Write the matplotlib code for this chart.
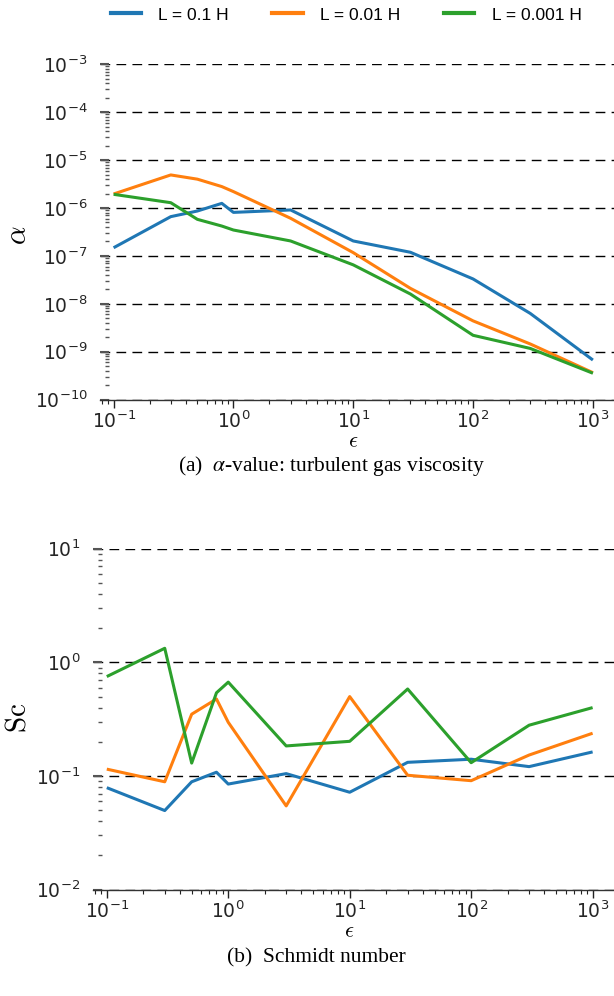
import matplotlib
matplotlib.use("Agg")
import matplotlib.pyplot as plt
from matplotlib.lines import Line2D
from matplotlib.ticker import LogLocator, NullFormatter
import numpy as np

# epsilon values shared by every run
eps = [0.1, 0.3, 0.5, 0.8, 1, 3, 10, 30, 100, 300, 1000]

# turbulent gas viscosity alpha
alpha_L01 = [1.48e-7, 6.6e-7, 8.65e-7, 1.25e-6, 8.1e-7, 9.1e-7, 2.05e-7, 1.19e-7, 3.3e-8, 6.3e-9, 6.7e-10]
alpha_L001 = [1.96e-6, 4.9e-6, 4.0e-6, 2.8e-6, 2.2e-6, 6.1e-7, 1.17e-7, 2.1e-8, 4.4e-9, 1.45e-9, 3.65e-10]
alpha_L0001 = [1.93e-6, 1.29e-6, 5.8e-7, 4.2e-7, 3.47e-7, 2.05e-7, 6.5e-8, 1.6e-8, 2.2e-9, 1.17e-9, 3.55e-10]

# Schmidt number
sc_L01 = [0.079, 0.0497, 0.089, 0.108, 0.085, 0.105, 0.072, 0.132, 0.1406, 0.121, 0.163]
sc_L001 = [0.115, 0.089, 0.35, 0.476, 0.297, 0.0546, 0.50, 0.1016, 0.091, 0.153, 0.238]
sc_L0001 = [0.75, 1.33, 0.13, 0.54, 0.67, 0.184, 0.202, 0.583, 0.131, 0.28, 0.40]

labels = ["L = 0.1 H", "L = 0.01 H", "L = 0.001 H"]
colors = ["#1f77b4", "#ff7f0e", "#2ca02c"]

W, H = 614, 996
fig = plt.figure(figsize=(W / 100, H / 100), dpi=100)

ax1 = fig.add_axes([100 / W, 1 - 399.6 / H, 514 / W, 335.3 / H])
ax2 = fig.add_axes([93 / W, 1 - 889.7 / H, 521 / W, 341 / H])


def style(ax, ylim):
    ax.set_xscale("log")
    ax.set_yscale("log")
    ax.set_xlim(0.077, 1500)
    ax.set_ylim(*ylim)
    for s in ["top", "right"]:
        ax.spines[s].set_visible(False)
    ax.spines["left"].set_position(("outward", -6.5))
    ax.spines["left"].set_color("none")
    ax.spines["bottom"].set_color("#333333")
    ax.spines["bottom"].set_linewidth(1.0)
    ax.yaxis.set_major_locator(LogLocator(base=10, numticks=20))
    ax.yaxis.set_minor_locator(LogLocator(base=10, subs=np.arange(2, 10), numticks=100))
    ax.yaxis.set_minor_formatter(NullFormatter())
    ax.xaxis.set_minor_locator(LogLocator(base=10, subs=np.arange(2, 10), numticks=100))
    ax.xaxis.set_minor_formatter(NullFormatter())
    ax.tick_params(axis="y", which="major", direction="out", length=6.5, width=1.5,
                   color="#555555", labelsize=13.5, labelcolor="#262626", pad=9)
    ax.tick_params(axis="y", which="minor", direction="out", length=3, width=1.0,
                   color="#555555")
    ax.tick_params(axis="x", which="major", direction="out", length=6, width=1.0,
                   color="#222222", labelsize=13.5, labelcolor="#262626", pad=2)
    ax.tick_params(axis="x", which="minor", direction="out", length=3, width=0.8,
                   color="#222222")
    ax.grid(True, axis="y", which="major", color="black", linestyle=(0, (7, 4.5)),
            linewidth=1.0)
    ax.grid(False, axis="x")
    ax.set_axisbelow(True)


style(ax1, (1e-10, 1e-3))
style(ax2, (1e-2, 1e1))

for ys, c in zip([alpha_L01, alpha_L001, alpha_L0001], colors):
    ax1.plot(eps, ys, color=c, lw=2.2, solid_capstyle="butt")
for ys, c in zip([sc_L01, sc_L001, sc_L0001], colors):
    ax2.plot(eps, ys, color=c, lw=2.2, solid_capstyle="butt")

# axis labels and captions
fig.text(18 / W, 1 - 235 / H, r"$\alpha$", rotation=90, ha="center", va="center",
         fontsize=21, math_fontfamily="cm")
fig.text(18 / W, 1 - 718 / H, r"$\mathrm{Sc}$", rotation=90, ha="center", va="center",
         fontsize=21, math_fontfamily="cm")
fig.text(353 / W, 1 - 441 / H, r"$\epsilon$", ha="center", va="center",
         fontsize=16, math_fontfamily="cm")
fig.text(349 / W, 1 - 931 / H, r"$\epsilon$", ha="center", va="center",
         fontsize=16, math_fontfamily="cm")
fig.text(331 / W, 1 - 466 / H, r"(a)  $\alpha$-value: turbulent gas viscosity",
         ha="center", va="center", fontsize=15.5, family="Liberation Serif",
         math_fontfamily="stix")
fig.text(316 / W, 1 - 958 / H, "(b)  Schmidt number", ha="center", va="center",
         fontsize=15.5, family="Liberation Serif")

handles = [Line2D([], [], color=c, lw=3) for c in colors]
fig.legend(handles, labels, loc="center", bbox_to_anchor=(346 / W, 1 - 15 / H),
           ncol=3, frameon=False, handlelength=1.75, handletextpad=1.0,
           columnspacing=2.5, prop={"family": "Liberation Sans", "size": 12.5})

fig.savefig("out.png", dpi=100)
